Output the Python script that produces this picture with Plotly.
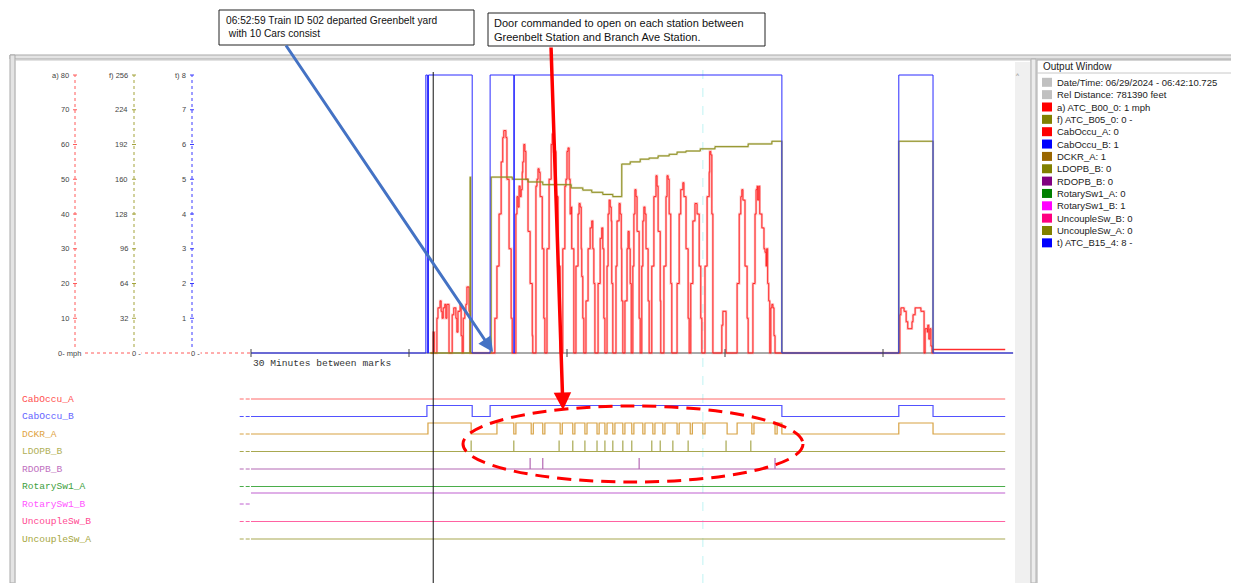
import plotly.graph_objects as go

# browser page adds an 8px body margin; the figure is sized so the picture fills the window
PAGE_OFFSET = 8
W, H = 1239 - PAGE_OFFSET, 583 - PAGE_OFFSET

# ---------------- DATA ----------------
# time in minutes from the first time mark (one mark every 30 minutes)
time_marks = [0, 30, 60, 90, 120]
time_end = 144.7
signal_end = 143.2
cursor_time = 34.6
cyan_cursor_time = 85.8

# a) ATC_B00_0 speed (mph), (minute, mph)
speed_yard = [(34.2, 0), (34.4, 0), (34.6, 6), (34.8, 0), (35.1, 0), (35.3, 10), (35.5, 13), (35.9, 15),
              (36.1, 12), (36.3, 10), (36.5, 13), (36.8, 14), (37.0, 10), (37.2, 14), (37.6, 0), (38.0, 0),
              (38.2, 11), (38.5, 13), (38.9, 10), (39.1, 6), (39.3, 12), (39.7, 14), (39.9, 5), (40.1, 0),
              (40.3, 10), (40.6, 12), (40.8, 14), (41.0, 19), (41.2, 19), (41.4, 12), (41.6, 0)]
speed_line = [(45.4, 0), (45.9, 0), (46.3, 10), (46.7, 25), (47.1, 40), (47.5, 55), (47.8, 62), (48.0, 64),
              (48.4, 62), (48.6, 50), (49.0, 30), (49.4, 10), (49.6, 0),
              (49.9, 0), (50.3, 40), (50.5, 45), (50.7, 42), (50.9, 48), (51.1, 45), (51.3, 47), (51.5, 52),
              (51.6, 55), (51.8, 60), (52.0, 58), (52.2, 50), (52.6, 35), (53.0, 20), (53.4, 5), (53.5, 0),
              (53.9, 0), (54.1, 48), (54.3, 50), (54.5, 53), (54.7, 52), (54.9, 45), (55.3, 30), (55.6, 10), (55.8, 0),
              (56.0, 0), (56.2, 30), (56.6, 50), (57.0, 60), (57.2, 63), (57.5, 58), (57.9, 45), (58.3, 25), (58.7, 0),
              (59.0, 0), (59.2, 30), (59.6, 48), (59.8, 50), (60.0, 58), (60.2, 59), (60.4, 50), (60.6, 40),
              (60.8, 42), (60.9, 30), (61.3, 0),
              (61.5, 0), (61.7, 25), (62.1, 40), (62.3, 43), (62.5, 42), (62.7, 30), (62.8, 22), (63.0, 10), (63.2, 0),
              (63.4, 0), (63.6, 15), (64.0, 30), (64.4, 36), (64.7, 38), (64.9, 30), (65.1, 20), (65.3, 0),
              (65.7, 0), (65.9, 20), (66.3, 33), (66.6, 36), (66.8, 30), (67.0, 10), (67.2, 0),
              (67.4, 0), (67.6, 25), (67.8, 40), (68.0, 44), (68.2, 42), (68.4, 38), (68.5, 20), (68.7, 0),
              (69.1, 0), (69.3, 25), (69.5, 38), (69.9, 43), (70.1, 40), (70.3, 30), (70.4, 15), (70.6, 0),
              (70.8, 0), (71.0, 15), (71.4, 30), (71.6, 35), (71.8, 30), (72.0, 20), (72.2, 0),
              (72.3, 0), (72.5, 25), (72.7, 40), (72.9, 47), (73.1, 45), (73.3, 35), (73.7, 10), (73.9, 0),
              (74.0, 0), (74.2, 25), (74.4, 38), (74.6, 42), (74.8, 40), (75.0, 30), (75.4, 15), (75.6, 0),
              (75.9, 0), (76.1, 25), (76.5, 45), (76.9, 51), (77.1, 48), (77.3, 35), (77.7, 15), (77.8, 0),
              (78.2, 0), (78.4, 25), (78.8, 45), (79.0, 51), (79.2, 50), (79.4, 40), (79.7, 20), (79.9, 0),
              (80.7, 0), (80.9, 20), (81.3, 40), (81.6, 47), (82.0, 49), (82.2, 45), (82.6, 30), (83.0, 10), (83.2, 0),
              (83.4, 0), (83.5, 20), (83.9, 38), (84.3, 43), (84.7, 40), (85.1, 25), (85.4, 10), (85.6, 0),
              (86.0, 0), (86.2, 25), (86.6, 45), (87.0, 52), (87.1, 58), (87.3, 57), (87.5, 40), (87.7, 0),
              (89.2, 0), (89.4, 8), (89.6, 12), (90.0, 12), (90.2, 0),
              (92.1, 0), (92.3, 20), (92.7, 40), (93.0, 45), (93.2, 47), (93.4, 44), (93.8, 25), (94.2, 10), (94.4, 0),
              (95.1, 0), (95.3, 20), (95.7, 40), (95.9, 47), (96.1, 48), (96.2, 44), (96.4, 48), (96.6, 40),
              (97.0, 36), (97.4, 30), (97.6, 29), (97.8, 25), (97.9, 30), (98.1, 20), (98.3, 15), (98.5, 0),
              (98.7, 13), (98.9, 14), (99.1, 13), (99.3, 5), (99.5, 0), (123.0, 0)]
speed_return = [(123.2, 11), (123.4, 13), (123.6, 13), (124.0, 12), (124.4, 9), (124.7, 7), (125.1, 7),
                (125.5, 9), (125.7, 11), (126.1, 13), (126.5, 13), (126.8, 13), (127.2, 12), (127.6, 12),
                (127.8, 0), (128.0, 7), (128.4, 6), (128.5, 8), (128.7, 4), (128.9, 7), (129.1, 2), (129.3, 0),
                (129.5, 1), (143.2, 1)]

# f) ATC_B05_0 (0-256 scale)
f_time = [34.0, 41.6, 41.7, 45.6, 49.6, 52.6, 55.4, 60.8, 63.0, 64.7, 66.8, 68.7, 70.4, 72.0, 73.9, 75.6,
          77.3, 79.4, 80.9, 82.6, 85.3, 88.1, 94.4, 98.9, 100.8, 123.0, 129.5]
f_value = [0, 162, 0, 162, 160, 157.5, 155, 152, 150, 148, 146, 144, 174, 176, 178.5, 179.5,
           181.5, 183, 185, 186, 188, 190, 192.5, 195, 0, 195, 0]

# t) ATC_B15_4 (0-8 scale)
t_time = [0, 33.2, 33.5, 33.7, 42.0, 45.4, 49.9, 50.0, 100.8, 123.0, 129.5, 144.7]
t_value = [0, 8, 0, 8, 0, 8, 0, 8, 0, 8, 0, 0]

# digital signals
row_names = ['CabOccu_A', 'CabOccu_B', 'DCKR_A', 'LDOPB_B', 'RDOPB_B',
             'RotarySw1_A', 'RotarySw1_B', 'UncoupleSw_B', 'UncoupleSw_A']
cabA_time, cabA_state = [0, 143.2], [0, 0]
cabB_time = [0, 33.4, 42.0, 45.4, 100.8, 123.0, 129.5, 143.2]
cabB_state = [0, 1, 0, 1, 0, 1, 0, 0]
dckr_time = [0, 33.6, 41.8, 46.7, 49.9, 50.3, 53.2, 53.6, 55.4, 55.8, 58.7, 59.1, 61.1, 61.5, 63.4, 63.8,
             65.7, 66.1, 67.2, 67.6, 68.7, 69.1, 70.6, 71.0, 72.3, 72.7, 74.4, 74.8, 76.3, 76.7, 78.2, 78.6,
             80.9, 81.3, 83.4, 83.8, 85.8, 86.2, 90.4, 92.3, 95.1, 95.5, 99.5, 99.9, 100.8, 123.0, 129.5, 143.2]
dckr_state = [0, 1, 0, 1, 0, 1, 0, 1, 0, 1, 0, 1, 0, 1, 0, 1,
              0, 1, 0, 1, 0, 1, 0, 1, 0, 1, 0, 1, 0, 1, 0, 1,
              0, 1, 0, 1, 0, 1, 0, 1, 0, 1, 0, 1, 0, 1, 0, 0]
ldopb_pulses = [41.8, 49.9, 58.5, 61.1, 63.4, 65.7, 67.2, 68.7, 70.6, 72.3, 76.1, 77.7, 80.1, 83.0, 90.2, 94.9]
rdopb_pulses = [53.0, 55.4, 73.7, 99.5]
rot1a_time, rot1a_state = [0, 143.2], [0, 0]
rot1b_time, rot1b_state = [0, 143.2], [1, 1]
uncB_time, uncB_state = [0, 143.2], [0, 0]
uncA_time, uncA_state = [0, 143.2], [0, 0]

# scale tick labels
a_ticks = [0, 10, 20, 30, 40, 50, 60, 70, 80]
a_labels = ['0- mph', '10', '20', '30', '40', '50', '60', '70', 'a) 80']
f_ticks = [0, 32, 64, 96, 128, 160, 192, 224, 256]
f_labels = ['0 -', '32', '64', '96', '128', '160', '192', '224', 'f) 256']
t_ticks = [0, 1, 2, 3, 4, 5, 6, 7, 8]
t_labels = ['0 -', '1', '2', '3', '4', '5', '6', '7', 't) 8']

output_items = ['Date/Time: 06/29/2024 - 06:42:10.725', 'Rel Distance: 781390 feet', 'a) ATC_B00_0: 1 mph',
                'f) ATC_B05_0: 0 -', 'CabOccu_A: 0', 'CabOccu_B: 1', 'DCKR_A: 1', 'LDOPB_B: 0', 'RDOPB_B: 0',
                'RotarySw1_A: 0', 'RotarySw1_B: 1', 'UncoupleSw_B: 0', 'UncoupleSw_A: 0', 't) ATC_B15_4: 8 -']
output_colors = ['#c0c0c0', '#c0c0c0', '#ff0000', '#808000', '#ff0000', '#0000ff', '#996600', '#808000',
                 '#800080', '#008000', '#ff00ff', '#ff0080', '#808000', '#0000ff']

note_left = '06:52:59 Train ID 502 departed Greenbelt yard<br>&nbsp;with 10 Cars consist'
note_right = 'Door commanded to open on each station between<br>Greenbelt Station and Branch Ave Station.'

# ---------------- LAYOUT HELPERS (screen pixels -> paper) ----------------
def px(x):
    return (x - PAGE_OFFSET) / W


def py(y):
    return 1 - (y - PAGE_OFFSET) / H


shapes, annotations = [], []


def rect(x0, y0, x1, y1, fill=None, line=None, lw=1, layer='below'):
    shapes.append(dict(type='rect', xref='paper', yref='paper', x0=px(x0), x1=px(x1), y0=py(y1), y1=py(y0),
                       fillcolor=fill or 'rgba(0,0,0,0)',
                       line=dict(color=line or 'rgba(0,0,0,0)', width=lw if line else 0), layer=layer))


def hline(x0, x1, y, color, width=1, layer='below'):
    shapes.append(dict(type='line', xref='paper', yref='paper', x0=px(x0), x1=px(x1), y0=py(y), y1=py(y),
                       line=dict(color=color, width=width), layer=layer))


# pixel calibration of the axes
x_dom = (236, 1015)
x0_px, px_per_min = 251, 158 / 30
x_range = [(x_dom[0] - x0_px) / px_per_min, (x_dom[1] - x0_px) / px_per_min]

top_dom = (360, 70)
zero_px, full_px = 353, 75


def top_range(vmax):
    per = (zero_px - full_px) / vmax
    return [-(top_dom[0] - zero_px) / per, (zero_px - top_dom[1]) / per]


row0_px, row_step = 399, 17.5
low_dom = (583, 380)
y4_range = [-(low_dom[0] - row0_px) / row_step, (row0_px - low_dom[1]) / row_step]
high_level = 11 / row_step

# ---------------- WINDOW CHROME ----------------
rect(10, 55, 1239, 59, '#e4e4e4', '#a9a9a9')
rect(10, 55, 15, 583, '#e4e4e4', '#a9a9a9')
rect(15, 60, 1031, 590, None, '#c6c6c6')
rect(1015, 62, 1030, 583, '#f0f0f0')
rect(1031, 59, 1036, 583, '#ececec', '#b0b0b0')
rect(1037, 60, 1238, 590, 'white', '#a9a9a9')
hline(1037, 1238, 73, '#c8c8c8')
annotations.append(dict(x=px(1022), y=py(71), xref='paper', yref='paper', text='˄', showarrow=False,
                        font=dict(family='DejaVu Sans', size=10, color='#a8a8a8')))
annotations.append(dict(x=px(1041), y=py(67), xref='paper', yref='paper', text='Output Window',
                        showarrow=False, xanchor='left', yanchor='middle',
                        font=dict(family='Liberation Sans', size=10, color='#222')))
for i, (txt, col) in enumerate(zip(output_items, output_colors)):
    yc = 82.3 + 12.35 * i
    rect(1042, yc - 4.5, 1052, yc + 4.5, col, None, 0, 'above')
    annotations.append(dict(x=px(1055), y=py(yc), xref='paper', yref='paper', text=txt, showarrow=False,
                            xanchor='left', yanchor='middle',
                            font=dict(family='Liberation Sans', size=9.5, color='#222')))

# ---------------- LEFT SCALES ----------------
scales = [(75, '#ff5a5a', 'y', a_ticks, a_labels, 57),
          (134, '#a3a33a', 'y2', f_ticks, f_labels, 131),
          (192, '#3a3aff', 'y3', t_ticks, t_labels, 190)]
for ax_px, col, yref, ticks, labels, zero_left in scales:
    shapes.append(dict(type='line', xref='paper', yref=yref, x0=px(ax_px), x1=px(ax_px), y0=ticks[0],
                       y1=ticks[-1], line=dict(color=col, width=1, dash='dot'), layer='below'))
    for v, lab in zip(ticks, labels):
        if v == ticks[0]:
            annotations.append(dict(x=px(zero_left), y=v, xref='paper', yref=yref, text=lab, showarrow=False,
                                    xanchor='left', yanchor='middle', bgcolor='white', borderpad=0,
                                    font=dict(family='Liberation Sans', size=7.5, color='#444')))
            continue
        shapes.append(dict(type='line', xref='paper', yref=yref, x0=px(ax_px - 2), x1=px(ax_px + 2), y0=v, y1=v,
                           line=dict(color=col, width=1), layer='below'))
        annotations.append(dict(x=px(ax_px - 4), y=v, xref='paper', yref=yref, text=lab, showarrow=False,
                                xanchor='right', yanchor='middle',
                                font=dict(family='Liberation Sans', size=7.5, color='#444')))
shapes.insert(0, dict(type='line', xref='paper', yref='y', x0=px(85), x1=px(250), y0=0, y1=0,
                      line=dict(color='#ff5a5a', width=1, dash='dot'), layer='below'))

# time axis
shapes.append(dict(type='line', xref='x', yref='y', x0=0, x1=time_end, y0=0, y1=0,
                   line=dict(color='#555555', width=1), layer='below'))
for m in time_marks:
    shapes.append(dict(type='line', xref='x', yref='paper', x0=m, x1=m, y0=py(357), y1=py(349),
                       line=dict(color='#444444', width=1), layer='above'))
annotations.append(dict(x=0, y=py(363), xref='x', yref='paper', text='30 Minutes between marks',
                        showarrow=False, xanchor='left', yanchor='middle',
                        font=dict(family='Liberation Mono', size=9.6, color='#333')))

# cursors
shapes.append(dict(type='line', xref='x', yref='paper', x0=cursor_time, x1=cursor_time, y0=0, y1=py(72),
                   line=dict(color='#111111', width=1), layer='above'))
shapes.append(dict(type='line', xref='x', yref='paper', x0=cyan_cursor_time, x1=cyan_cursor_time, y0=0,
                   y1=py(62), line=dict(color='#bff3f3', width=1, dash='dash'), layer='below'))

# ---------------- TRACES ----------------
fig = go.Figure()
sp = speed_yard + speed_line + speed_return
speed_t = [p[0] for p in sp]
speed_v = [p[1] for p in sp]

fig.add_trace(go.Scatter(x=speed_t, y=speed_v, mode='lines',
                         line=dict(color='rgba(255,90,90,0.4)', width=2.4, shape='hv'),
                         hoverinfo='skip', yaxis='y'))
fig.add_trace(go.Scatter(x=speed_t, y=speed_v, mode='lines', line=dict(color='#ff1a1a', width=0.9, shape='hv'),
                         hoverinfo='skip', yaxis='y'))
fig.add_trace(go.Scatter(x=f_time, y=f_value, mode='lines', line=dict(color='rgba(150,150,40,0.3)', width=2.2,
                         shape='hv'), hoverinfo='skip', yaxis='y2'))
fig.add_trace(go.Scatter(x=f_time, y=f_value, mode='lines', line=dict(color='#8c8c1c', width=1, shape='hv'),
                         hoverinfo='skip', yaxis='y2'))
fig.add_trace(go.Scatter(x=t_time, y=t_value, mode='lines', line=dict(color='#2a2aff', width=1, shape='hv'),
                         hoverinfo='skip', yaxis='y3'))

row_line_colors = ['#ff6a6a', '#5252ff', '#d7a243', '#a8a850', '#b468b4', '#4aad4a', '#c060d0', '#ff62a2',
                   '#a8a850']
row_text_colors = ['#ff5050', '#6464ff', '#e0a444', '#b0b058', '#c070c0', '#3ea03e', '#ff55ff', '#ff4a92',
                   '#a6a640']
level_signals = {'CabOccu_A': (cabA_time, cabA_state), 'CabOccu_B': (cabB_time, cabB_state),
                 'DCKR_A': (dckr_time, dckr_state), 'RotarySw1_A': (rot1a_time, rot1a_state),
                 'RotarySw1_B': (rot1b_time, rot1b_state), 'UncoupleSw_B': (uncB_time, uncB_state),
                 'UncoupleSw_A': (uncA_time, uncA_state)}
pulse_signals = {'LDOPB_B': ldopb_pulses, 'RDOPB_B': rdopb_pulses}

for i, name in enumerate(row_names):
    base = -i
    col = row_line_colors[i]
    fig.add_trace(go.Scatter(x=[x_range[0] + 0.7, -0.2], y=[base, base], mode='lines',
                             line=dict(color=col, width=1, dash='4px,2px'), hoverinfo='skip', yaxis='y4'))
    if name in level_signals:
        tt, ss = level_signals[name]
        fig.add_trace(go.Scatter(x=tt, y=[base + high_level * s for s in ss], mode='lines',
                                 line=dict(color=col, width=1.2, shape='hv'), hoverinfo='skip', yaxis='y4'))
    else:
        fig.add_trace(go.Scatter(x=[0, signal_end], y=[base, base], mode='lines',
                                 line=dict(color=col, width=1.2), hoverinfo='skip', yaxis='y4'))
        xs, ys = [], []
        for t in pulse_signals[name]:
            xs += [t, t, None]
            ys += [base, base + high_level, None]
        fig.add_trace(go.Scatter(x=xs, y=ys, mode='lines', line=dict(color=col, width=1.2),
                                 hoverinfo='skip', yaxis='y4'))
    annotations.append(dict(x=px(20), y=base, xref='paper', yref='y4', text=name, showarrow=False,
                            xanchor='left', yanchor='middle',
                            font=dict(family='Liberation Mono', size=9.6, color=row_text_colors[i])))

# ---------------- CALLOUTS ----------------
rect(219, 10, 474, 45, 'white', '#222', 1, 'above')
rect(488, 13, 765, 46, 'white', '#222', 1, 'above')
annotations.append(dict(x=px(224), y=py(27.5), xref='paper', yref='paper', text=note_left, showarrow=False,
                        xanchor='left', yanchor='middle', align='left',
                        font=dict(family='Liberation Sans', size=10.2, color='#111')))
annotations.append(dict(x=px(492), y=py(29.5), xref='paper', yref='paper', text=note_right, showarrow=False,
                        xanchor='left', yanchor='middle', align='left',
                        font=dict(family='Liberation Sans', size=11, color='#111')))
annotations.append(dict(x=px(493), y=py(352), xref='paper', yref='paper', ax=285 - 493, ay=44 - 352,
                        axref='pixel', ayref='pixel', text='', showarrow=True, arrowhead=2, arrowsize=1,
                        arrowwidth=3, arrowcolor='#4472c4'))
annotations.append(dict(x=px(563), y=py(410), xref='paper', yref='paper', ax=551 - 563, ay=46 - 410,
                        axref='pixel', ayref='pixel', text='', showarrow=True, arrowhead=2, arrowsize=1,
                        arrowwidth=3.5, arrowcolor='#ff0000'))
shapes.append(dict(type='circle', xref='paper', yref='paper', x0=px(463), x1=px(803), y0=py(482), y1=py(406),
                   line=dict(color='#ff0000', width=3, dash='14px,8px'), layer='above'))

fig.update_layout(
    width=W, height=H, autosize=False, margin=dict(l=0, r=0, t=0, b=0),
    paper_bgcolor='white', plot_bgcolor='rgba(0,0,0,0)', showlegend=False,
    xaxis=dict(domain=[px(x_dom[0]), px(x_dom[1])], range=x_range, visible=False, fixedrange=True),
    yaxis=dict(domain=[py(top_dom[0]), py(top_dom[1])], range=top_range(80), visible=False),
    yaxis2=dict(overlaying='y', range=top_range(256), visible=False),
    yaxis3=dict(overlaying='y', range=top_range(8), visible=False),
    yaxis4=dict(domain=[0, py(low_dom[1])], range=y4_range, visible=False, anchor='x'),
    shapes=shapes, annotations=annotations,
)
fig.write_html('out.html')
